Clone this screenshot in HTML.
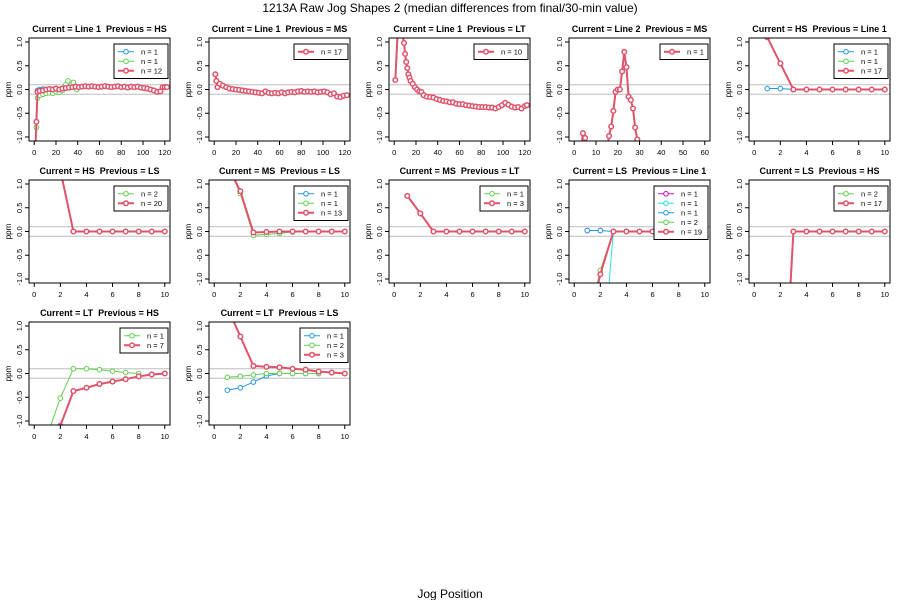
<!DOCTYPE html>
<html><head><meta charset="utf-8"><style>
html,body{margin:0;padding:0;background:#fff;}
svg{display:block;font-family:"Liberation Sans",sans-serif;}
text{white-space:pre;}
</style></head><body>
<svg id="chart" width="900" height="600" xmlns="http://www.w3.org/2000/svg">
<text x="450" y="12" text-anchor="middle" font-size="12">1213A Raw Jog Shapes 2 (median differences from final/30-min value)</text>
<text x="450" y="598" text-anchor="middle" font-size="12">Jog Position</text>
</svg>
<script>
const RED="#DF536B",GREEN="#61D04F",BLUE="#2297E6",CYAN="#28E2E5",MAG="#CD0BBC";
const p1Blue=[[3,-0.02],[5,0],[8,0.01],[11,0]];
const p1Green=[[1,-1.3],[2,-0.8],[3,-0.18],[5,-0.12],[8,-0.1],[11,-0.08],[14,-0.07],[17,-0.08],[20,-0.05],[23,-0.06],[26,-0.02],[29,0.1],[31,0.18],[34,0.1],[36,0.15],[39,0.0]];
const p1Red=[[1,-1.3],[2,-0.68],[3,-0.05],[5,-0.03],[8,-0.02],[11,0],[14,0.01],[17,0],[20,0.02],[23,0],[26,0.02],[29,0.03],[32,0.04],[35,0.05],[38,0.06],[41,0.05],[44,0.06],[47,0.07],[50,0.06],[53,0.07],[56,0.06],[59,0.05],[62,0.06],[65,0.07],[68,0.06],[71,0.05],[74,0.06],[77,0.07],[80,0.05],[83,0.06],[86,0.04],[89,0.06],[92,0.05],[95,0.06],[98,0.04],[101,0.03],[104,0.02],[107,0],[110,-0.02],[113,-0.05],[116,-0.04],[118,0.05],[120,0.05],[122,0.05]];
const p2Red=[[1,0.32],[2,0.18],[3,0.05],[5,0.12],[8,0.08],[11,0.05],[14,0.02],[17,0.01],[20,0],[23,-0.01],[26,-0.02],[29,-0.03],[32,-0.04],[35,-0.05],[38,-0.06],[41,-0.07],[44,-0.08],[47,-0.04],[50,-0.07],[53,-0.08],[56,-0.07],[59,-0.08],[62,-0.06],[65,-0.08],[68,-0.06],[71,-0.05],[74,-0.06],[77,-0.04],[80,-0.03],[83,-0.05],[86,-0.04],[89,-0.05],[92,-0.04],[95,-0.06],[98,-0.05],[101,-0.04],[104,-0.06],[107,-0.1],[110,-0.08],[113,-0.15],[116,-0.16],[119,-0.13],[122,-0.12]];
const p3Red=[[1,0.2],[4,1.6],[9,0.98],[10,0.75],[11,0.58],[12,0.45],[13,0.32],[14,0.25],[15,0.18],[17,0.12],[19,0.05],[21,0],[23,-0.04],[25,-0.05],[27,-0.12],[30,-0.15],[33,-0.16],[36,-0.17],[39,-0.2],[42,-0.22],[45,-0.24],[48,-0.25],[51,-0.27],[54,-0.27],[57,-0.3],[60,-0.31],[63,-0.31],[66,-0.33],[69,-0.34],[72,-0.35],[75,-0.36],[78,-0.37],[81,-0.37],[84,-0.37],[87,-0.38],[90,-0.38],[93,-0.4],[96,-0.37],[99,-0.33],[102,-0.28],[105,-0.32],[108,-0.36],[111,-0.38],[114,-0.37],[117,-0.4],[120,-0.35],[122,-0.33]];
const p4Red=[[3,-1.3],[4,-0.92],[5,-1.02],[6,-1.3],null,[15,-1.3],[16,-0.98],[17,-0.78],[18,-0.45],[19,-0.05],[20,0],[21,0],[22,0.38],[23,0.79],[24,0.47],[25,-0.15],[26,-0.22],[27,-0.4],[28,-0.8],[29,-1.05],[30,-1.3]];
const p5Blue=[[1,0.02],[2,0.02],[3,0]];
const p5Green=[[2,0.55],[3,0]];
const p5Red=[[0,1.5],[1,1.1],[2,0.55],[3,0],[4,0],[5,0],[6,0],[7,0],[8,0],[9,0],[10,0]];
const p6Green=[[2,1.3],[3,0]];
const p6Red=[[2,1.3],[3,0],[4,0],[5,0],[6,0],[7,0],[8,0],[9,0],[10,0]];
const p7Blue=[[2,0.82],[3,-0.03]];
const p7Green=[[1,1.4],[2,0.8],[3,-0.08],[4,-0.06],[5,-0.04],[6,-0.01]];
const p7Red=[[1,1.4],[2,0.85],[3,-0.02],[4,-0.01],[5,0],[6,0],[7,0],[8,0],[9,0],[10,0]];
const p8Green=[[1,0.75],[2,0.38],[3,0]];
const p8Red=[[1,0.75],[2,0.38],[3,0],[4,0],[5,0],[6,0],[7,0],[8,0],[9,0],[10,0]];
const p9Mag=[[1,0.02],[2,0.02]];
const p9Cyan=[[2.6,-1.3],[3,0],[4,0]];
const p9Blue=[[1,0.02],[2,0.02],[3,0]];
const p9Green=[[1.5,-1.4],[2,-0.82],[3,0]];
const p9Red=[[1.5,-1.5],[2,-0.9],[3,0],[4,0],[5,0],[6,0],[7,0],[8,0],[9,0],[10,0]];
const p10Green=[[2.7,-1.5],[3,0]];
const p10Red=[[2.7,-1.5],[3,0],[4,0],[5,0],[6,0],[7,0],[8,0],[9,0],[10,0]];
const p11Green=[[1,-1.3],[2,-0.52],[3,0.1],[4,0.1],[5,0.08],[6,0.05],[7,0.02],[8,0]];
const p11Red=[[2,-1.1],[3,-0.37],[4,-0.3],[5,-0.22],[6,-0.17],[7,-0.12],[8,-0.06],[9,-0.02],[10,0]];
const p12Blue=[[1,-0.35],[2,-0.3],[3,-0.18],[4,-0.05],[5,0],[6,0],[7,0],[8,0]];
const p12Green=[[1,-0.08],[2,-0.06],[3,-0.03],[4,0],[5,0],[6,0],[7,0],[8,0]];
const p12Red=[[1,1.4],[2,0.78],[3,0.16],[4,0.14],[5,0.13],[6,0.1],[7,0.08],[8,0.04],[9,0.02],[10,0]];
const ticks120=[0,20,40,60,80,100,120],ticks60=[0,10,20,30,40,50,60],ticks10=[0,2,4,6,8,10];
const yTicks=[-1,-0.5,0,0.5,1],yTickLabels=["-1.0","-0.5","0.0","0.5","1.0"];
const panels=[
 {t:"Current = Line 1  Previous = HS",xd:[-4.8,124.8],xt:ticks120,s:[[p1Blue,BLUE,"n = 1",1],[p1Green,GREEN,"n = 1",1],[p1Red,RED,"n = 12",2]]},
 {t:"Current = Line 1  Previous = MS",xd:[-4.8,124.8],xt:ticks120,s:[[p2Red,RED,"n = 17",2]]},
 {t:"Current = Line 1  Previous = LT",xd:[-4.8,124.8],xt:ticks120,s:[[p3Red,RED,"n = 10",2]]},
 {t:"Current = Line 2  Previous = MS",xd:[-2.4,62.4],xt:ticks60,s:[[p4Red,RED,"n = 1",2]]},
 {t:"Current = HS  Previous = Line 1",xd:[-0.4,10.4],xt:ticks10,s:[[p5Blue,BLUE,"n = 1",1],[p5Green,GREEN,"n = 1",1],[p5Red,RED,"n = 17",2]]},
 {t:"Current = HS  Previous = LS",xd:[-0.4,10.4],xt:ticks10,s:[[p6Green,GREEN,"n = 2",1],[p6Red,RED,"n = 20",2]]},
 {t:"Current = MS  Previous = LS",xd:[-0.4,10.4],xt:ticks10,s:[[p7Blue,BLUE,"n = 1",1],[p7Green,GREEN,"n = 1",1],[p7Red,RED,"n = 13",2]]},
 {t:"Current = MS  Previous = LT",xd:[-0.4,10.4],xt:ticks10,s:[[p8Green,GREEN,"n = 1",1],[p8Red,RED,"n = 3",2]]},
 {t:"Current = LS  Previous = Line 1",xd:[-0.4,10.4],xt:ticks10,s:[[p9Mag,MAG,"n = 1",1],[p9Cyan,CYAN,"n = 1",1],[p9Blue,BLUE,"n = 1",1],[p9Green,GREEN,"n = 2",1],[p9Red,RED,"n = 19",2]]},
 {t:"Current = LS  Previous = HS",xd:[-0.4,10.4],xt:ticks10,s:[[p10Green,GREEN,"n = 2",1],[p10Red,RED,"n = 17",2]]},
 {t:"Current = LT  Previous = HS",xd:[-0.4,10.4],xt:ticks10,s:[[p11Green,GREEN,"n = 1",1],[p11Red,RED,"n = 7",2]]},
 {t:"Current = LT  Previous = LS",xd:[-0.4,10.4],xt:ticks10,s:[[p12Blue,BLUE,"n = 1",1],[p12Green,GREEN,"n = 2",1],[p12Red,RED,"n = 3",2]]}
];
const NS="http://www.w3.org/2000/svg",svg=document.getElementById('chart');
function mk(tag,attrs,parent){const e=document.createElementNS(NS,tag);for(const k in attrs)e.setAttribute(k,attrs[k]);(parent||svg).appendChild(e);return e;}
const W=141,H=103,rowTops=[38,180,322];
panels.forEach((p,i)=>{
 const col=i%5,row=Math.floor(i/5),L=29+col*180,T=rowTops[row],R=L+W,B=T+H;
 const xs=v=>L+(v-p.xd[0])/(p.xd[1]-p.xd[0])*W;
 const ys=v=>T+(1.084-v)/2.168*H;
 const g=mk('g',{});
 
 
 const tt=mk('text',{x:L+W/2,y:T-6,'text-anchor':'middle','font-size':9,'font-weight':'bold'},g);tt.textContent=p.t;
 
 
 const cp=mk('clipPath',{id:'c'+i},g);mk('rect',{x:L,y:T,width:W,height:H},cp);
 [0.1,-0.1].forEach(v=>{const l=mk('line',{x1:L,x2:R,y1:ys(v),y2:ys(v),stroke:'#bebebe','stroke-width':1},g);
  
  });
 const pg=mk('g',{'clip-path':'url(#c'+i+')'},g);
 p.s.forEach(([d,c,lab,w])=>{
  const sg=mk('g',{},pg);
  
  
  let path='',pen=false;
  d.forEach(pt=>{if(!pt){pen=false;return;}path+=(pen?'L':'M')+xs(pt[0]).toFixed(1)+' '+ys(pt[1]).toFixed(1);pen=true;});
  mk('path',{d:path,fill:'none',stroke:c,'stroke-width':w},sg);
  d.forEach(pt=>{if(!pt)return;const ci=mk('circle',{cx:xs(pt[0]),cy:ys(pt[1]),r:2.3,fill:'#fff',stroke:c,'stroke-width':w===2?1.5:1},sg);
   
   });
 });
 const bx=mk('rect',{x:L,y:T,width:W,height:H,fill:'none',stroke:'#000','stroke-width':1},g);
 
 
 p.xt.forEach(v=>{const x=xs(v);mk('line',{x1:x,x2:x,y1:B,y2:B+4,stroke:'#000'},g);
  const t=mk('text',{x:x,y:B+14,'text-anchor':'middle','font-size':7.5},g);t.textContent=v;
  
  });
 yTicks.forEach((v,k)=>{const y=ys(v);mk('line',{x1:L-4,x2:L,y1:y,y2:y,stroke:'#000'},g);
  const t=mk('text',{x:0,y:0,'text-anchor':'middle','font-size':7.5,transform:`translate(${L-7},${y}) rotate(-90)`},g);t.textContent=yTickLabels[k];
  
  });
 const yl=mk('text',{x:0,y:0,'text-anchor':'middle','font-size':8,transform:`translate(${L-18},${T+H/2}) rotate(-90)`},g);yl.textContent='ppm';
 
 
 const n=p.s.length,lw=p.s.some(s=>s[2].length>5)?54:48,lh=9.5,lx=R-lw-2,ly=T+6;
 const lg=mk('g',{},g);
 
 
 mk('rect',{x:lx,y:ly,width:lw,height:n*lh+6,fill:'#fff',stroke:'#000','stroke-width':1},lg);
 p.s.forEach(([d,c,lab,w],k)=>{const y=ly+3+lh*(k+0.5);
  const e=mk('g',{},lg);
  
  
  mk('line',{x1:lx+4,x2:lx+20,y1:y,y2:y,stroke:c,'stroke-width':w},e);
  mk('circle',{cx:lx+12,cy:y,r:2.3,fill:'#fff',stroke:c,'stroke-width':w===2?1.5:1},e);
  const t=mk('text',{x:lx+27,y:y+2.7,'font-size':7.5},e);t.textContent=lab;});
 svg.appendChild(g);
});
</script>
</body></html>
